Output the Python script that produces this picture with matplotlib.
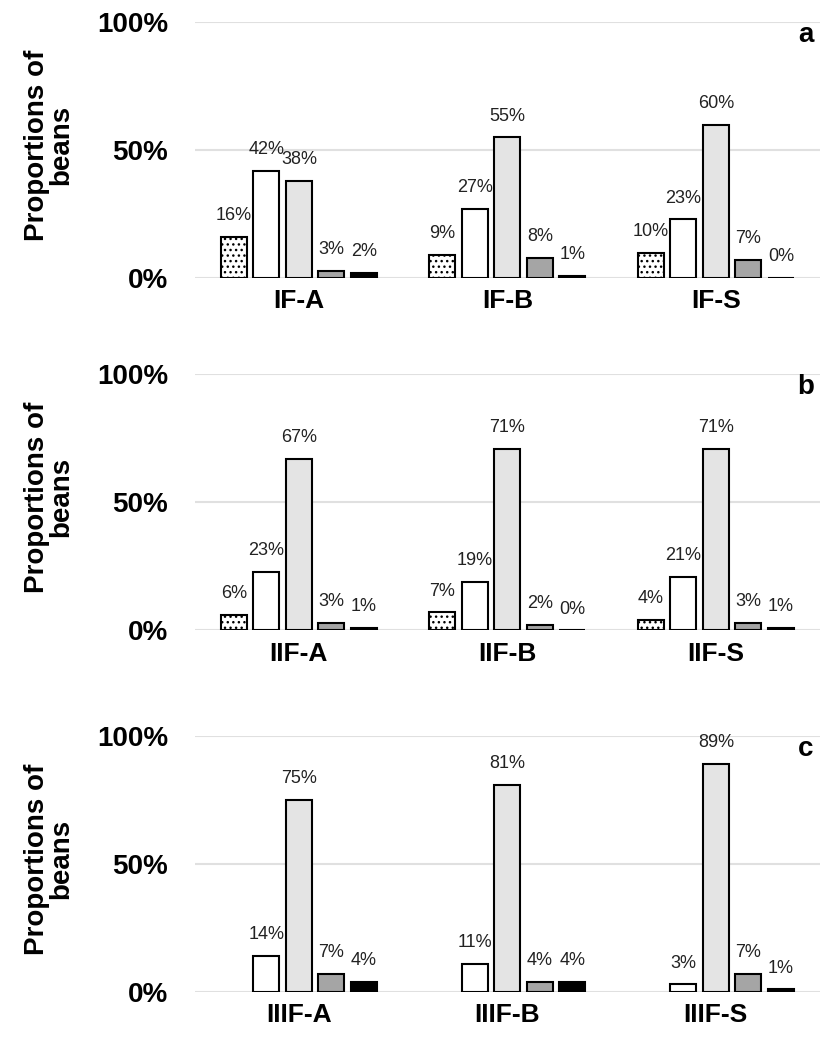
"""
Proportions of beans per category, three panels
"""

import numpy as np
import matplotlib
matplotlib.use('Agg')
import matplotlib.pyplot as plt  # pylint: disable=wrong-import-position

plt.rcParams['font.family'] = ['Liberation Sans', 'DejaVu Sans']
plt.rcParams['hatch.linewidth'] = 1.0

# Panel data (percent); NaN = no bar shown
groups_a = ['IF-A', 'IF-B', 'IF-S']
values_a = [[16, 42, 38, 3, 2], [9, 27, 55, 8, 1], [10, 23, 60, 7, 0]]

groups_b = ['IIF-A', 'IIF-B', 'IIF-S']
values_b = [[6, 23, 67, 3, 1], [7, 19, 71, 2, 0], [4, 21, 71, 3, 1]]

groups_c = ['IIIF-A', 'IIIF-B', 'IIIF-S']
values_c = [[np.nan, 14, 75, 7, 4], [np.nan, 11, 81, 4, 4], [np.nan, 3, 89, 7, 1]]

panel_letters = ['a', 'b', 'c']
tick_labels = ['0%', '50%', '100%']

fills = ['white', 'white', '#e4e4e4', '#a5a5a5', 'black']
hatches = ['...', None, None, None, None]

fig = plt.figure(figsize=(8.25, 10.42), dpi=100)

left, width = 0.236, 0.758
bottoms = [0.733, 0.395, 0.048]
height = 0.2457

bar_w = 0.125
step = 0.156

for idx, (groups, values) in enumerate([(groups_a, values_a),
                                         (groups_b, values_b),
                                         (groups_c, values_c)]):
    ax = fig.add_axes([left, bottoms[idx], width, height])
    vals = np.array(values, dtype=float)
    x = np.arange(len(groups))
    for s in range(vals.shape[1]):
        pos = x + (s - 2) * step
        h = vals[:, s] / 100.0
        mask = ~np.isnan(h)
        ax.bar(pos[mask], h[mask], width=bar_w, color=fills[s],
               edgecolor='black', linewidth=1.5, hatch=hatches[s], zorder=3)
        for px, hv in zip(pos[mask], h[mask]):
            ax.text(px, hv + 0.05, f"{hv * 100:.0f}%", ha='center',
                    va='bottom', fontsize=13, color='#222222')

    ax.set_xlim(-0.5, len(groups) - 0.5)
    ax.set_ylim(0, 1)
    ax.set_yticks([0, 0.5, 1])
    ax.set_yticklabels(tick_labels, fontsize=20, fontweight='bold')
    ax.set_xticks(x)
    ax.set_xticklabels(groups, fontsize=19, fontweight='bold')
    ax.tick_params(length=0, axis='y', pad=19)
    ax.tick_params(length=0, axis='x', pad=8)
    ax.grid(axis='y', color='#e0e0e0', linewidth=1.5, zorder=0)
    for sp in ax.spines.values():
        sp.set_visible(False)
    ax.set_ylabel('Proportions of\nbeans', fontsize=20, fontweight='bold',
                  linespacing=0.95)
    ax.yaxis.set_label_coords(-0.192, 0.52)
    ax.text(0.99, 0.95, panel_letters[idx], transform=ax.transAxes,
            ha='right', va='center', fontsize=20, fontweight='bold')

fig.savefig('out.png', dpi=100)
